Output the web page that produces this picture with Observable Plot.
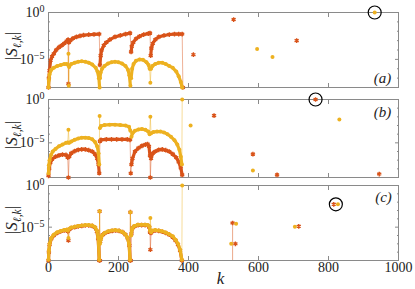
<!DOCTYPE html>
<html><head><meta charset="utf-8">
<script src="https://cdn.jsdelivr.net/npm/d3@7"></script>
<script src="https://cdn.jsdelivr.net/npm/@observablehq/plot@0.6"></script>
<style>
body{margin:0;background:#fff}
#chart{position:relative;width:415px;height:289px;overflow:hidden;background:#fff}
#chart svg{position:absolute;left:0;overflow:visible}
</style></head><body><div id="chart"></div>
<script>
// ---------- ticks ----------
const xTickValues = [0, 200, 400, 600, 800, 1000];
const yMajorTicks = [1, 1e-5];
const yMinorTicksA = [1e-1, 1e-2, 1e-3, 1e-4, 1e-6, 1e-7, 1e-8];
const yMinorTicksBC = [1e-1, 1e-2, 1e-3, 1e-4, 1e-6, 1e-7, 1e-8, 1e-9];
const yDomainA = [1e-8, 1];
const yDomainBC = [1e-9, 1];
const panelLabels = ["(a)", "(b)", "(c)"];

// ---------- data: [k, log10 |S|] ----------
// panel (a)
const aOrangeArcs = [
  [[0,-8],[1,-7],[3,-6.2],[6,-5.1],[10,-4.7],[15,-4.4],[22,-4.0],[30,-3.7],[38,-3.5],[45,-3.3],[52,-3.05],[56,-2.9]],
  [[58,-3.2],[62,-3.0],[70,-2.75],[80,-2.6],[90,-2.5],[100,-2.42],[115,-2.37],[130,-2.33],[145,-2.3]],
  [[147,-5.6],[149,-4.6],[152,-4.0],[158,-3.5],[165,-3.2],[175,-2.9],[190,-2.6],[205,-2.45],[220,-2.3],[233,-2.2]],
  [[236,-4.2],[238,-3.6],[242,-3.2],[250,-2.8],[260,-2.55],[272,-2.35],[285,-2.25],[290,-2.2]],
  [[292,-4.6],[294,-3.8],[298,-3.3],[305,-2.9],[315,-2.6],[330,-2.45],[345,-2.35],[360,-2.3],[372,-2.3],[382,-2.3]]
];
const aOrangeJumps = [[57,-7.6],[384,-8]];
const aOrangeIsolated = [[414,-4.5],[529,-0.75],[709,-3.0]];
const aYellowArcs = [
  [[0,-8],[1,-7.2],[3,-6.6],[8,-6.1],[15,-5.9],[25,-5.7],[35,-5.6],[45,-5.5],[52,-5.5],[56,-5.6]],
  [[59,-5.8],[65,-5.5],[75,-5.35],[85,-5.25],[95,-5.2],[105,-5.25],[115,-5.35],[125,-5.55],[135,-5.9],[140,-6.3],[144,-7.0],[146,-8]],
  [[147,-7.0],[149,-6.4],[153,-6.0],[160,-5.7],[170,-5.45],[180,-5.3],[190,-5.25],[200,-5.3],[210,-5.45],[220,-5.7],[227,-6.1],[231,-6.7],[234,-7.8]],
  [[236,-7.0],[239,-6.0],[243,-5.5],[250,-5.15],[260,-5.0],[270,-5.05],[280,-5.3],[286,-5.6],[289,-6.0]],
  [[293,-6.0],[297,-5.7],[305,-5.5],[315,-5.35],[325,-5.35],[335,-5.5],[345,-5.7],[355,-5.9],[365,-6.3],[372,-6.8],[378,-7.4],[382,-8]]
];
const aYellowJumps = [[57,-4.4],[58,-7.8],[291,-7.5]];
const aYellowIsolated = [[596,-3.9],[640,-4.75],[932,0]];
const aCircled = [[932,0]];
const aStems = [];

// panel (b)
const bOrangeArcs = [
  [[0,-8.8],[2,-8.0],[5,-7.3],[10,-6.9],[20,-6.6],[30,-6.45],[40,-6.35],[50,-6.4],[55,-6.7]],
  [[59,-6.6],[65,-6.2],[75,-5.95],[85,-5.8],[95,-5.75],[105,-5.75],[115,-5.85],[125,-6.0],[133,-6.3],[139,-6.8],[143,-7.5],[145,-8.5]],
  [[147,-4.8],[150,-4.65],[165,-4.6],[180,-4.6],[195,-4.6],[210,-4.6],[225,-4.6],[233,-4.65]],
  [[237,-7.5],[240,-6.8],[247,-6.0],[257,-5.6],[267,-5.35],[277,-5.2],[283,-5.15],[287,-5.4],[290,-6.5]],
  [[293,-6.8],[298,-6.2],[305,-6.0],[315,-5.8],[325,-5.75],[335,-5.85],[345,-6.0],[355,-6.3],[365,-6.7],[372,-7.2],[378,-7.9],[382,-8.7]]
];
const bOrangeJumps = [[57,-9],[235,-8.5],[291,-9]];
const bOrangeIsolated = [[473,-1.86],[584,-6.3],[653,-8.7],[763,0],[945,-8.6]];
const bYellowArcs = [
  [[0,-8.5],[1,-7.6],[3,-7.0],[7,-6.4],[12,-6.0],[20,-5.7],[30,-5.4],[40,-5.2],[50,-5.0],[55,-4.95]],
  [[59,-5.0],[65,-4.85],[75,-4.65],[85,-4.5],[95,-4.4],[105,-4.4],[115,-4.45],[125,-4.6],[133,-4.9],[139,-5.4],[143,-6.2],[145,-7.5]],
  [[147,-3.3],[150,-3.05],[160,-2.95],[175,-2.9],[190,-2.9],[205,-2.95],[220,-3.0],[230,-3.15],[234,-3.6]],
  [[237,-4.3],[240,-3.9],[247,-3.6],[257,-3.45],[267,-3.4],[277,-3.5],[285,-3.7],[289,-4.0]],
  [[293,-3.9],[300,-3.75],[310,-3.7],[320,-3.7],[330,-3.8],[340,-4.0],[350,-4.3],[360,-4.7],[368,-5.2],[374,-5.8],[378,-6.6],[381,-7.5]]
];
const bYellowJumps = [[57,-3.5],[146,-1.9],[291,-2.0],[382,0]];
const bYellowIsolated = [[406,-3.0],[584,-8.2],[831,-2.3]];
const bCircled = [[763,0]];
const bStems = [];

// panel (c)
const cOrangeArcs = [
  [[0,-9],[1,-8.0],[3,-7.1],[8,-6.4],[15,-6.0],[25,-5.7],[35,-5.5],[45,-5.4],[52,-5.35],[55,-5.5]],
  [[59,-5.3],[65,-5.1],[75,-5.0],[85,-4.9],[95,-4.85],[105,-4.8],[115,-4.8],[125,-4.85],[133,-5.05],[138,-5.5],[142,-6.4],[145,-9]],
  [[148,-6.7],[150,-6.2],[155,-5.9],[162,-5.7],[172,-5.55],[182,-5.45],[192,-5.4],[202,-5.45],[212,-5.6],[220,-5.9],[226,-6.3],[231,-7.2],[233,-9]],
  [[237,-5.8],[240,-5.1],[246,-4.9],[256,-4.75],[266,-4.75],[276,-4.75],[284,-4.8],[288,-5.0],[290,-5.6]],
  [[293,-5.7],[297,-5.5],[305,-5.4],[315,-5.45],[325,-5.55],[335,-5.7],[345,-5.9],[355,-6.2],[363,-6.6],[370,-7.1],[376,-7.8],[381,-9]]
];
const cOrangeJumps = [[57,-6.6],[146,-3.1],[147,-9],[234,-3.2],[235,-9],[291,-7.7]];
const cOrangeIsolated = [[526,-4.5],[534,-7.0],[715,-4.9],[815,-2.26]];
const cYellowArcs = [
  [[0,-8.9],[1,-7.8],[3,-7.0],[8,-6.3],[15,-5.9],[25,-5.6],[35,-5.45],[45,-5.35],[52,-5.3],[55,-5.4]],
  [[59,-5.2],[65,-5.05],[75,-4.95],[85,-4.85],[95,-4.8],[105,-4.75],[115,-4.75],[125,-4.8],[133,-5.0],[138,-5.4],[142,-6.2],[145,-8.9]],
  [[147,-7.0],[149,-6.5],[153,-6.0],[160,-5.7],[170,-5.5],[180,-5.4],[190,-5.35],[200,-5.4],[210,-5.55],[218,-5.8],[225,-6.2],[230,-7.0],[233,-8.9]],
  [[236,-6.0],[239,-5.2],[245,-4.85],[255,-4.7],[265,-4.7],[275,-4.7],[283,-4.75],[288,-4.9],[290,-5.4]],
  [[293,-5.6],[297,-5.4],[305,-5.35],[315,-5.4],[325,-5.5],[335,-5.65],[345,-5.85],[355,-6.1],[363,-6.5],[370,-7.0],[376,-7.7],[381,-8.9]]
];
const cYellowJumps = [[57,-6.3],[146,-3.1],[234,-3.2],[291,-3.9],[382,0]];
const cYellowIsolated = [[522,-7.0],[536,-4.6],[704,-4.96],[827,-2.26]];
const cCircled = [[821,-2.26]];
const cStems = [[526,-4.5]];

// ---------- style ----------
const ORANGE = "#D95319", YELLOW = "#EDB120";
const FRAME = "#8a8a8a", TEXT = "#222";
const SERIF = "Liberation Serif, DejaVu Serif, serif";

const row = ([k, e]) => ({k, v: Math.pow(10, e)});

function seriesMarks(arcs, jumps, isolated, color, isOrange) {
  const arcRows = arcs.flatMap((arc, i) => arc.map(p => ({...row(p), arc: i})));
  const seq = [...arcs.flat(), ...jumps].map(row).sort((a, b) => a.k - b.k);
  const iso = isolated.map(row);
  const dotOpts = isOrange
    ? {symbol: "asterisk", r: 2.2, stroke: color, strokeWidth: 1.4}
    : {r: 2.0, fill: color};
  return [
    Plot.line(seq, {x: "k", y: "v", stroke: color, strokeOpacity: 0.45, strokeWidth: 1}),
    Plot.line(arcRows, {x: "k", y: "v", z: "arc", stroke: color, strokeWidth: 3.2}),
    Plot.dot(seq, {x: "k", y: "v", ...dotOpts}),
    Plot.dot(iso, {x: "k", y: "v", ...dotOpts})
  ];
}

const panels = [
  {top: 0, height: 92, mt: 12, mb: 5, domain: yDomainA, minor: yMinorTicksA,
   o: [aOrangeArcs, aOrangeJumps, aOrangeIsolated], y: [aYellowArcs, aYellowJumps, aYellowIsolated],
   circled: aCircled, stems: aStems, label: panelLabels[0], lAnchor: "bottom-right", ldx: -16, ldy: -9, cy: 46, showX: false},
  {top: 92, height: 88, mt: 7, mb: 3, domain: yDomainBC, minor: yMinorTicksBC,
   o: [bOrangeArcs, bOrangeJumps, bOrangeIsolated], y: [bYellowArcs, bYellowJumps, bYellowIsolated],
   circled: bCircled, stems: bStems, label: panelLabels[1], lAnchor: "top-right", ldx: -16, ldy: 13, cy: 43, showX: false},
  {top: 180, height: 109, mt: 5, mb: 29, domain: yDomainBC, minor: yMinorTicksBC,
   o: [cOrangeArcs, cOrangeJumps, cOrangeIsolated], y: [cYellowArcs, cYellowJumps, cYellowIsolated],
   circled: cCircled, stems: cStems, label: panelLabels[2], lAnchor: "top-right", ldx: -15, ldy: 12, cy: 40, showX: true}
];

const chart = document.getElementById("chart");
const none = () => "";

for (const p of panels) {
  const marks = [
    Plot.frame({stroke: FRAME, strokeWidth: 1}),
    Plot.axisX({anchor: "bottom", ticks: xTickValues, tickSize: -4, stroke: FRAME, label: null,
      tickFormat: p.showX ? (d => String(d)) : none, tickPadding: 6, fontSize: 14, fill: TEXT}),
    Plot.axisX({anchor: "top", ticks: xTickValues, tickSize: -4, stroke: FRAME, label: null, tickFormat: none}),
    Plot.axisY({anchor: "left", ticks: yMajorTicks, tickSize: -4, stroke: FRAME, label: null,
      tickFormat: d => "10^" + Math.round(Math.log10(d)), tickPadding: 8, fontSize: 14, fill: TEXT}),
    Plot.axisY({anchor: "left", ticks: p.minor, tickSize: -2, stroke: FRAME, label: null, tickFormat: none}),
    Plot.axisY({anchor: "right", ticks: yMajorTicks, tickSize: -4, stroke: FRAME, label: null, tickFormat: none}),
    Plot.axisY({anchor: "right", ticks: p.minor, tickSize: -2, stroke: FRAME, label: null, tickFormat: none}),
    Plot.ruleX(p.stems.map(row), {x: "k", y1: p.domain[0], y2: "v", stroke: ORANGE, strokeOpacity: 0.5}),
    ...seriesMarks(...p.o, ORANGE, true),
    ...seriesMarks(...p.y, YELLOW, false),
    Plot.dot(p.circled.map(row), {x: "k", y: "v", r: 6.5, stroke: "#000", strokeWidth: 1.2, fill: "none"}),
    Plot.text([p.label], {text: d => d, frameAnchor: p.lAnchor, dx: p.ldx, dy: p.ldy,
      textAnchor: "middle", lineAnchor: "middle", fontSize: 15, fontStyle: "italic", fill: TEXT, fontFamily: SERIF})
  ];
  if (p.showX) {
    marks.push(Plot.text(["k"], {text: d => d, frameAnchor: "bottom", dx: -3, dy: 18,
      textAnchor: "middle", lineAnchor: "middle", fontSize: 17, fontStyle: "italic", fill: TEXT, fontFamily: SERIF}));
  }
  const svg = Plot.plot({
    width: 415, height: p.height,
    marginLeft: 48, marginRight: 17, marginTop: p.mt, marginBottom: p.mb,
    x: {domain: [0, 1000], label: null},
    y: {type: "log", domain: p.domain, label: null},
    style: {fontFamily: SERIF, background: "transparent", color: TEXT, overflow: "visible"},
    marks
  });
  svg.style.top = p.top + "px";
  svg.setAttribute("font-family", SERIF);
  // superscripts on y tick labels
  d3.select(svg).selectAll('g[aria-label="y-axis tick label"] text').each(function () {
    const m = (this.textContent || "").match(/^10\^(.*)$/);
    if (!m) return;
    const t = d3.select(this);
    t.text(null);
    t.append("tspan").text("10");
    t.append("tspan").attr("dy", "-0.5em").attr("font-size", "0.72em").text(m[1].replace("-", "\u2212"));
  });
  // y label |S_{ℓ,k}|
  const yl = d3.select(svg).append("text")
    .attr("transform", `translate(17,${p.cy}) rotate(-90)`)
    .attr("text-anchor", "middle").attr("font-family", SERIF).attr("font-size", 17).attr("fill", TEXT);
  yl.append("tspan").text("|");
  yl.append("tspan").attr("font-style", "italic").text("S");
  yl.append("tspan").attr("font-style", "italic").attr("font-size", 11.5).attr("dy", 4).text("\u2113,k");
  yl.append("tspan").attr("dy", -4).text("|");
  chart.appendChild(svg);
}
</script></body></html>
